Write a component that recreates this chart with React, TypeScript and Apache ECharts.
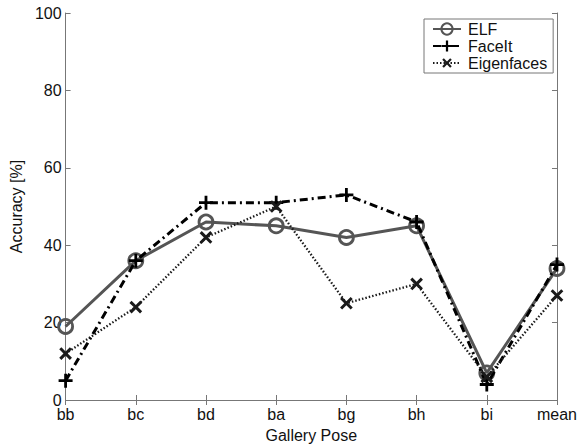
import React, { useEffect, useRef } from "react";
import * as echarts from "echarts";

const categories = ["bb", "bc", "bd", "ba", "bg", "bh", "bi", "mean"];
const elf = [19, 36, 46, 45, 42, 45, 7, 34];
const faceit = [5, 36, 51, 51, 53, 46, 4, 35];
const eigenfaces = [12, 24, 42, 50, 25, 30, 6, 27];
const yTicks = [0, 20, 40, 60, 80, 100];

const PLUS = "path://M4,0H6V4H10V6H6V10H4V6H0V4H4Z";
const FONT = "Liberation Sans";

export default function App() {
  const ref = useRef<HTMLDivElement>(null);
  useEffect(() => {
    const chart = echarts.init(ref.current!, null, { renderer: "svg" });
    const axisLine = { show: true, lineStyle: { color: "#777", width: 1 } };
    const tickStyle = { show: true, inside: true, length: 5, lineStyle: { color: "#777" } };
    chart.setOption({
      animation: false,
      backgroundColor: "#fff",
      textStyle: { fontFamily: FONT },
      grid: { left: 56, right: 19, top: 13, bottom: 37 },
      legend: {
        orient: "vertical",
        left: 424,
        top: 19,
        width: 131,
        padding: [2, 6, 2, 8],
        itemGap: 1,
        itemWidth: 28,
        itemHeight: 14,
        borderColor: "#777",
        borderWidth: 1,
        backgroundColor: "#fff",
        textStyle: { fontSize: 16, color: "#111", fontFamily: FONT, padding: [0, 0, 0, 2] },
        data: ["ELF", "FaceIt", "Eigenfaces"],
      },
      xAxis: [
        {
          type: "category",
          data: categories,
          boundaryGap: false,
          axisLine,
          axisTick: { ...tickStyle, alignWithLabel: true },
          axisLabel: { fontSize: 16, color: "#111", margin: 6, fontFamily: FONT },
          splitLine: { show: false },
          name: "Gallery Pose",
          nameLocation: "middle",
          nameGap: 27,
          nameTextStyle: { fontSize: 16, color: "#111", fontFamily: FONT },
        },
        {
          type: "category",
          data: categories,
          boundaryGap: false,
          position: "top",
          axisLine,
          axisTick: tickStyle,
          axisLabel: { show: false },
        },
      ],
      yAxis: [
        {
          type: "value",
          min: 0,
          max: 100,
          interval: 20,
          axisLine,
          axisTick: tickStyle,
          splitLine: { show: false },
          axisLabel: {
            fontSize: 16,
            color: "#111",
            margin: 4,
            fontFamily: FONT,
            formatter: (v: number) => (yTicks.includes(v) ? String(v) : ""),
          },
          name: "Accuracy [%]",
          nameLocation: "middle",
          nameGap: 31,
          nameTextStyle: { fontSize: 16, color: "#111", fontFamily: FONT },
        },
        {
          type: "value",
          min: 0,
          max: 100,
          interval: 20,
          position: "right",
          axisLine,
          axisTick: tickStyle,
          splitLine: { show: false },
          axisLabel: { show: false },
        },
      ],
      series: [
        {
          name: "ELF",
          type: "line",
          data: elf,
          symbol: "circle",
          symbolSize: 14,
          lineStyle: { color: "#555", width: 3, type: "solid" },
          itemStyle: { color: "rgba(0,0,0,0)", borderColor: "#555", borderWidth: 2.8 },
          z: 2,
        },
        {
          name: "FaceIt",
          type: "line",
          data: faceit,
          symbol: PLUS,
          symbolSize: 14,
          lineStyle: { color: "#000", width: 3, type: [8, 4, 2, 4] },
          itemStyle: { color: "#000" },
          z: 3,
        },
        {
          name: "Eigenfaces",
          type: "line",
          data: eigenfaces,
          symbol: PLUS,
          symbolSize: 15,
          symbolRotate: 45,
          lineStyle: { color: "#1a1a1a", width: 2.3, type: [1.5, 2] },
          itemStyle: { color: "#1a1a1a" },
          z: 4,
        },
      ],
    });
    return () => chart.dispose();
  }, []);
  return (
    <div
      ref={ref}
      style={{ position: "absolute", left: 0, top: 0, width: 580, height: 448 }}
    />
  );
}
